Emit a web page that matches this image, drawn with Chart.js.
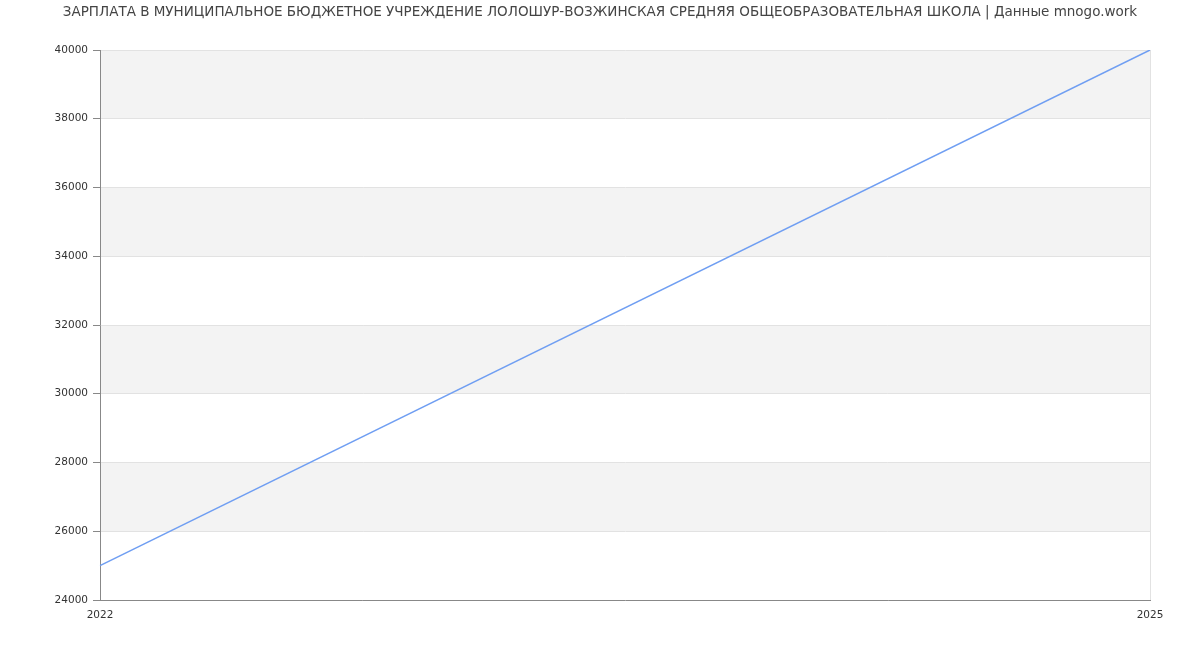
<!DOCTYPE html>
<html>
<head>
<meta charset="utf-8">
<script src="https://cdn.jsdelivr.net/npm/chart.js@4"></script>
<style>
  html, body { margin: 0; padding: 0; background: #fff; }
  #wrap { width: 1200px; height: 650px; }
</style>
</head>
<body>
<div id="wrap"><canvas id="salaryChart"></canvas></div>
<script>
// данные графика
const years = ['2022', '2025'];
const salary = [25000, 40000];
const yTicks = [24000, 26000, 28000, 30000, 32000, 34000, 36000, 38000, 40000];
const chartTitle = 'ЗАРПЛАТА В МУНИЦИПАЛЬНОЕ БЮДЖЕТНОЕ УЧРЕЖДЕНИЕ ЛОЛОШУР-ВОЗЖИНСКАЯ СРЕДНЯЯ ОБЩЕОБРАЗОВАТЕЛЬНАЯ ШКОЛА | Данные mnogo.work';

// серые полосы через одну (между делениями оси Y)
const bandsPlugin = {
    id: 'bands',
    beforeDraw(chart) {
        const ctx = chart.ctx;
        const area = chart.chartArea;
        const y = chart.scales.y;
        ctx.save();
        ctx.fillStyle = '#f3f3f3';
        for (let i = yTicks.length - 1; i > 0; i -= 2) {
            const top = y.getPixelForValue(yTicks[i]);
            const bottom = y.getPixelForValue(yTicks[i - 1]);
            ctx.fillRect(area.left, top, area.right - area.left, bottom - top);
        }
        ctx.restore();
    }
};

// заголовок по центру всего холста
const titlePlugin = {
    id: 'pageTitle',
    afterDraw(chart) {
        const ctx = chart.ctx;
        ctx.save();
        ctx.font = '13.5px "DejaVu Sans", sans-serif';
        ctx.fillStyle = '#444';
        ctx.textAlign = 'center';
        ctx.textBaseline = 'middle';
        ctx.fillText(chartTitle, chart.width / 2, 12);
        ctx.restore();
    }
};

Chart.defaults.font.family = '"DejaVu Sans", sans-serif';

new Chart(document.getElementById('salaryChart'), {
    type: 'line',
    data: {
        labels: years,
        datasets: [{
            data: salary,
            borderColor: '#6f9ef2',
            borderWidth: 1.5,
            pointRadius: 0,
            fill: false,
            tension: 0
        }]
    },
    options: {
        responsive: true,
        maintainAspectRatio: false,
        animation: false,
        layout: { padding: { top: 50, right: 50, bottom: 0, left: 0 } },
        plugins: {
            legend: { display: false },
            tooltip: { enabled: false },
            title: { display: false }
        },
        scales: {
            x: {
                offset: false,
                grid: { color: '#e2e2e2', drawTicks: false },
                border: { color: '#888' },
                ticks: { color: '#333', font: { size: 10.5 }, padding: 9, maxRotation: 0 },
                afterFit(scale) { scale.height = 50; }
            },
            y: {
                min: 24000,
                max: 40000,
                afterBuildTicks(scale) { scale.ticks = yTicks.map(v => ({ value: v })); },
                grid: { color: '#e2e2e2', tickColor: '#888', tickLength: 7 },
                border: { color: '#888' },
                ticks: {
                    color: '#333',
                    font: { size: 10.5 },
                    padding: 5,
                    callback: function(value) { return String(value); }
                },
                afterFit(scale) { scale.width = 100; }
            }
        }
    },
    plugins: [bandsPlugin, titlePlugin]
});
</script>
</body>
</html>
